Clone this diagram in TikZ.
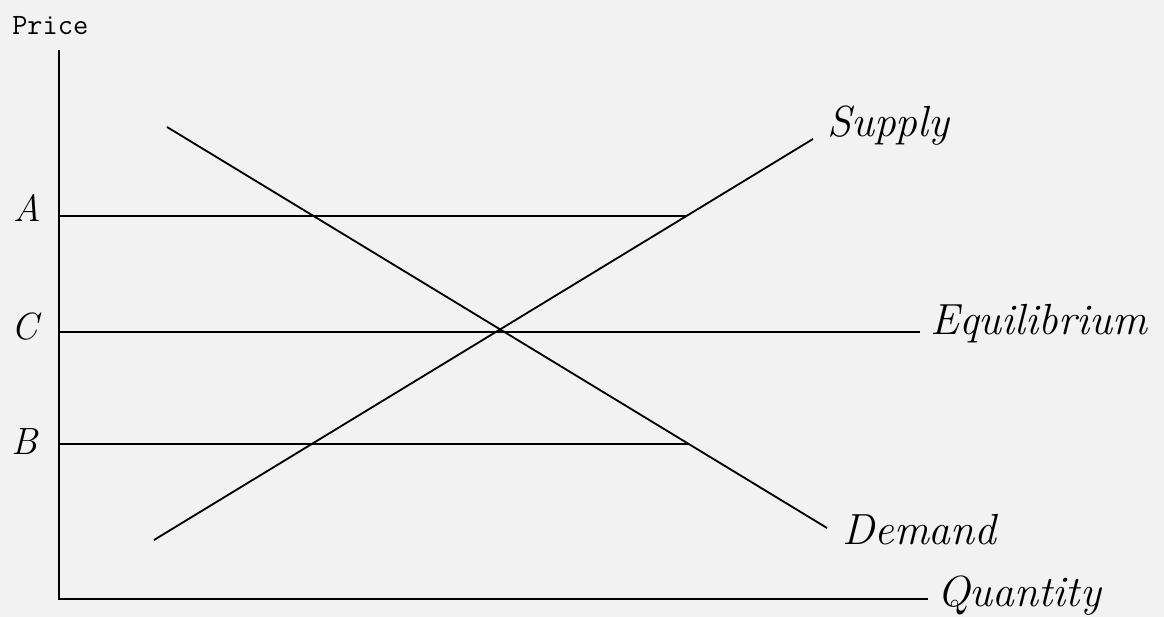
\documentclass[tikz,border=0pt]{standalone}
\usetikzlibrary{intersections}
\begin{document}
\begin{tikzpicture}[
    hand/.style={font=\fontsize{31}{33}\selectfont\itshape, inner sep=0pt},
    letter/.style={font=\fontsize{27}{29}\selectfont\itshape, inner sep=0pt},
    curve/.style={line width=1.3pt},
    axis/.style={line width=1.6pt},
]
    % paper
    \useasboundingbox[fill=gray!10] (-1.475,-0.45) rectangle (27.625,14.975);

    % Axes
    \coordinate (origin) at (0,0);
    \coordinate (ytop) at (0,13.725);
    \coordinate (xend) at (21.725,0);
    \draw[axis] (ytop) -- (origin) -- (xend);
    \node[font=\fontsize{21}{23}\selectfont\ttfamily, anchor=base west, inner sep=0pt] (price) at (-1.175,14.1) {Price};
    \node[hand, anchor=base west] (quantity) at (21.95,-0.2) {Quantity};

    % Supply and demand
    \draw[curve, name path=supply] (2.375,1.475) coordinate (s0) -- (18.85,11.5) coordinate (s1);
    \draw[curve, name path=demand] (2.7,11.8) coordinate (d0) -- (19.2,1.775) coordinate (d1);
    \node[hand, anchor=base west] (supplylbl) at (19.2,11.55) {Supply};
    \node[hand, anchor=base west] (demandlbl) at (19.575,1.35) {Demand};

    % Price levels
    \coordinate (lA) at (0,9.575);
    \coordinate (lC) at (0,6.675);
    \coordinate (lB) at (0,3.875);
    \path[name path=levA] (lA) -- ++(25,0);
    \path[name path=levB] (lB) -- ++(25,0);
    \path[name intersections={of=supply and levA, by=pA}];
    \path[name intersections={of=demand and levB, by=pB}];
    \draw[curve] (lA) -- (pA);
    \draw[curve] (lB) -- (pB);
    \draw[curve] (lC) -- (21.525,6.675) coordinate (cend);
    \node[hand, anchor=base west] (equil) at (21.775,6.6) {Equilibrium};

    \node[letter, anchor=base] (labA) at (-0.8,9.425) {A};
    \node[letter, anchor=base] (labC) at (-0.85,6.475) {C};
    \node[letter, anchor=base] (labB) at (-0.85,3.6) {B};
\end{tikzpicture}
\end{document}
